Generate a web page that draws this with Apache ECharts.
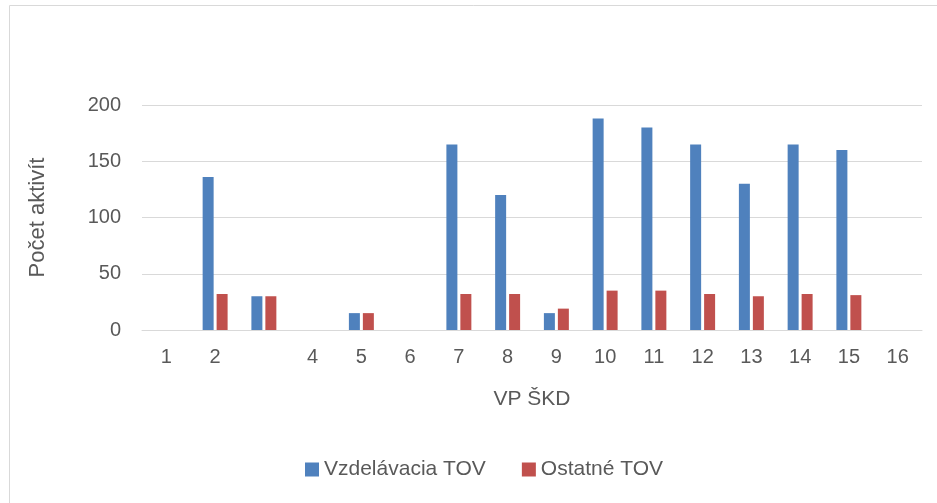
<!DOCTYPE html>
<html>
<head>
<meta charset="utf-8">
<script src="https://cdn.jsdelivr.net/npm/echarts@6/dist/echarts.min.js"></script>
<style>
  html, body { margin: 0; padding: 0; background: #fff; }
  #chart { width: 937px; height: 503px; }
</style>
</head>
<body>
<div id="chart"></div>
<script>
// kategórie (VP ŠKD) – tretia nemá popis
const categories = ['1', '2', '', '4', '5', '6', '7', '8', '9', '10', '11', '12', '13', '14', '15', '16']
const vzdelavacia = [0, 136, 30, 0, 15, 0, 165, 120, 15, 188, 180, 165, 130, 165, 160, 0]
const ostatne = [0, 32, 30, 0, 15, 0, 32, 32, 19, 35, 35, 32, 30, 32, 31, 0]
const seriesNames = ['Vzdelávacia TOV', 'Ostatné TOV']

const font = 'Liberation Sans, Arial, sans-serif'
const textColor = '#595959'

const chart = echarts.init(document.getElementById('chart'))

chart.setOption({
  animation: false,
  graphic: [
    {
      type: 'polyline',
      shape: { points: [[9.5, 503], [9.5, 5.5], [937, 5.5]] },
      style: { stroke: '#d9d9d9', lineWidth: 1, fill: null }
    }
  ],
  legend: {
    data: seriesNames,
    top: 454,
    left: 300,
    itemWidth: 14,
    itemHeight: 14,
    itemGap: 36,
    icon: 'rect',
    textStyle: { fontFamily: font, fontSize: 21, color: textColor }
  },
  grid: {
    left: 142,
    right: 15,
    top: 105,
    bottom: 173
  },
  xAxis: {
    type: 'category',
    data: categories,
    name: 'VP ŠKD',
    nameLocation: 'middle',
    nameGap: 59,
    nameTextStyle: { fontFamily: font, fontSize: 21, color: textColor },
    axisLine: { lineStyle: { color: '#d9d9d9', width: 1 } },
    axisTick: { show: false },
    axisLabel: { fontFamily: font, fontSize: 20, color: textColor, margin: 17, interval: 0 }
  },
  yAxis: {
    type: 'value',
    min: 0,
    max: 200,
    interval: 50,
    name: 'Počet aktivít',
    nameLocation: 'middle',
    nameGap: 93,
    nameTextStyle: { fontFamily: font, fontSize: 22, color: textColor },
    axisLine: { show: false },
    axisTick: { show: false },
    axisLabel: { fontFamily: font, fontSize: 20, color: textColor, margin: 21 },
    splitLine: { lineStyle: { color: '#d9d9d9', width: 1 } }
  },
  series: [
    {
      name: seriesNames[0],
      type: 'bar',
      data: vzdelavacia,
      barWidth: 11,
      barGap: '27%',
      itemStyle: { color: '#4f81bd' }
    },
    {
      name: seriesNames[1],
      type: 'bar',
      data: ostatne,
      barWidth: 11,
      barGap: '27%',
      itemStyle: { color: '#c0504d' }
    }
  ]
})
</script>
</body>
</html>
